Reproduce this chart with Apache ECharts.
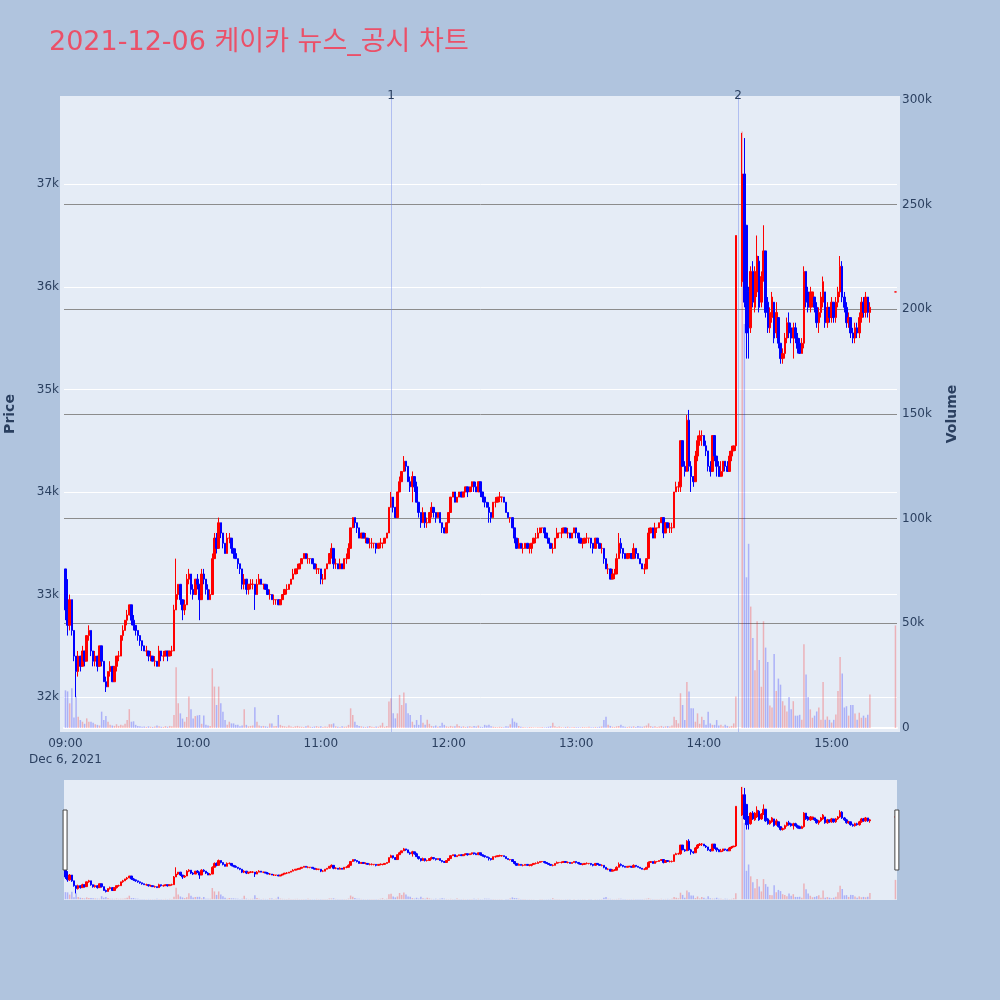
<!DOCTYPE html>
<html>
<head>
<meta charset="utf-8">
<title>2021-12-06 케이카 뉴스_공시 차트</title>
<script src="https://cdn.jsdelivr.net/npm/echarts@6.0.0/dist/echarts.min.js"></script>
<style>
html, body { margin: 0; padding: 0; background: #b0c4de; }
#chart { width: 1000px; height: 1000px; }
</style>
</head>
<body>
<div id="chart"></div>
<script>
// 1분봉 [시가, 종가, 저가, 고가]  09:00 ~ 14:15 (1분 간격)
var ohlcMorning = [
  [33250,32850,32750,33250],[32850,32700,32600,33150],[32700,32950,32650,33000],[32950,32650,32600,32950],[32650,32400,32350,32650],
  [32400,32250,32000,32400],[32250,32400,32200,32450],[32400,32300,32250,32400],[32300,32450,32300,32500],[32450,32350,32300,32450],
  [32350,32600,32350,32600],[32600,32650,32550,32700],[32650,32450,32400,32650],[32450,32350,32300,32450],[32350,32400,32300,32450],
  [32400,32300,32250,32400],[32300,32500,32300,32500],[32500,32350,32300,32500],[32350,32150,32150,32350],[32150,32100,32050,32200],
  [32100,32250,32100,32250],[32250,32300,32200,32350],[32300,32150,32150,32300],[32150,32300,32150,32300],[32300,32400,32250,32400],
  [32400,32400,32350,32450],[32400,32600,32400,32600],[32600,32650,32550,32700],[32650,32750,32650,32750],[32750,32800,32700,32850],
  [32800,32900,32800,32900],[32900,32750,32700,32900],[32750,32700,32650,32800],[32700,32650,32600,32700],[32650,32600,32550,32650],
  [32600,32550,32500,32600],[32550,32500,32450,32550],[32500,32450,32450,32500],[32450,32450,32400,32500],[32450,32400,32350,32450],
  [32400,32400,32350,32450],[32400,32350,32350,32400],[32350,32350,32300,32400],[32350,32300,32300,32350],[32300,32450,32300,32500],
  [32450,32400,32350,32450],[32400,32400,32350,32450],[32400,32450,32400,32450],[32450,32400,32350,32450],[32400,32450,32400,32450],
  [32450,32450,32400,32500],[32450,32850,32450,32900],[32850,33000,32850,33350],[33000,33100,32950,33100],[33100,32950,32900,33100],
  [32950,32850,32750,32950],[32850,32900,32800,32950],[32900,33150,32900,33200],[33150,33200,33100,33250],[33200,33050,33000,33200],
  [33050,33000,32950,33100],[33000,33150,33000,33150],[33150,33100,33050,33200],[33100,32950,32750,33100],[32950,33200,32950,33250],
  [33200,33150,33100,33250],[33150,33050,33000,33150],[33050,32950,32950,33100],[32950,33000,32950,33050],[33000,33350,33000,33400],
  [33350,33550,33350,33600],[33550,33450,33400,33600],[33450,33700,33450,33750],[33700,33600,33550,33700],[33600,33500,33450,33600],
  [33500,33400,33400,33500],[33400,33550,33400,33600],[33550,33550,33500,33600],[33550,33450,33400,33550],[33450,33400,33350,33450],
  [33400,33350,33350,33450],[33350,33300,33250,33350],[33300,33250,33200,33300],[33250,33100,33050,33250],[33100,33150,33050,33200],
  [33150,33050,33000,33150],[33050,33100,33000,33100],[33100,33100,33050,33150],[33100,33100,33050,33150],[33100,33000,32850,33100],
  [33000,33100,33000,33150],[33100,33150,33100,33200],[33150,33100,33100,33150],[33100,33100,33050,33100],[33100,33050,33050,33100],
  [33050,33000,33000,33100],[33000,33000,32950,33050],[33000,32950,32950,33000],[32950,32950,32900,33000],[32950,32950,32900,32950],
  [32950,32900,32900,32950],[32900,32950,32900,32950],[32950,33000,32950,33000],[33000,33050,33000,33050],[33050,33050,33000,33100],
  [33050,33100,33050,33100],[33100,33150,33100,33150],[33150,33200,33150,33250],[33200,33250,33200,33250],[33250,33250,33200,33300],
  [33250,33300,33250,33300],[33300,33350,33300,33350],[33350,33400,33350,33400],[33400,33350,33350,33400],[33350,33350,33300,33400],
  [33350,33350,33300,33350],[33350,33300,33300,33350],[33300,33250,33250,33300],[33250,33250,33200,33300],[33250,33250,33200,33250],
  [33250,33150,33100,33250],[33150,33150,33100,33200],[33150,33250,33150,33250],[33250,33300,33250,33300],[33300,33400,33300,33400],
  [33400,33450,33350,33500],[33450,33300,33250,33450],[33300,33300,33250,33350],[33300,33250,33250,33300],[33250,33300,33250,33350],
  [33300,33250,33250,33300],[33250,33350,33250,33350],[33350,33350,33300,33400],[33350,33450,33350,33500],[33450,33650,33450,33650],
  [33650,33750,33650,33750],[33750,33700,33650,33750],[33700,33650,33600,33700],[33650,33550,33550,33650],[33550,33600,33550,33600],
  [33600,33550,33550,33600],[33550,33550,33500,33600],[33550,33500,33500,33550],[33500,33500,33450,33550],[33500,33500,33450,33550],
  [33500,33500,33450,33500],[33500,33450,33400,33500],[33450,33500,33450,33500],[33500,33500,33450,33550],[33500,33500,33450,33500],
  [33500,33550,33500,33550],[33550,33600,33550,33600],[33600,33850,33600,33850],[33850,33950,33850,34000],[33950,33850,33800,33950],
  [33850,33750,33750,33850],[33750,34000,33750,34000],[34000,34100,34000,34150],[34100,34200,34100,34200],[34200,34300,34200,34350],
  [34300,34250,34200,34300],[34250,34100,34100,34250],[34100,34050,34000,34150],[34050,34150,33900,34200],[34150,34050,34000,34150],
  [34050,33900,33900,34100],[33900,33800,33750,33900],[33800,33700,33650,33800],[33700,33800,33700,33850],[33800,33700,33650,33800],
  [33700,33700,33650,33750],[33700,33800,33700,33800],[33800,33850,33750,33900],[33850,33800,33750,33850],[33800,33750,33700,33800],
  [33750,33800,33750,33800],[33800,33700,33700,33800],[33700,33650,33600,33700],[33650,33600,33600,33650],[33600,33700,33600,33700],
  [33700,33800,33700,33800],[33800,33950,33800,33950],[33950,34000,33950,34000],[34000,33900,33900,34000],[33900,33950,33900,33950],
  [33950,34000,33950,34000],[34000,33950,33950,34000],[33950,34000,33950,34000],[34000,34050,34000,34050],[34050,34000,33950,34050],
  [34000,34050,34000,34050],[34050,34100,34000,34100],[34100,34050,34000,34100],[34050,34000,34000,34100],[34000,34100,34000,34100],
  [34100,34000,33950,34100],[34000,33950,33900,34000],[33950,33900,33850,33950],[33900,33850,33850,33900],[33850,33800,33700,33900],
  [33800,33750,33700,33800],[33750,33900,33750,33900],[33900,33900,33850,33950],[33900,33950,33900,33950],[33950,33950,33900,34000],
  [33950,33950,33900,33950],[33950,33900,33900,33950],[33900,33800,33800,33900],[33800,33750,33750,33800],[33750,33750,33700,33750],
  [33750,33650,33650,33750],[33650,33550,33500,33650],[33550,33450,33450,33550],[33450,33500,33450,33550],[33500,33450,33450,33500],
  [33450,33450,33400,33500],[33450,33500,33450,33500],[33500,33450,33450,33500],[33450,33450,33400,33500],[33450,33500,33400,33500],
  [33500,33550,33500,33550],[33550,33550,33500,33600],[33550,33600,33550,33650],[33600,33650,33600,33650],[33650,33650,33600,33650],
  [33650,33600,33550,33650],[33600,33550,33550,33600],[33550,33500,33500,33550],[33500,33450,33450,33500],[33450,33450,33400,33500],
  [33450,33550,33450,33550],[33550,33600,33550,33650],[33600,33600,33550,33600],[33600,33600,33550,33650],[33600,33650,33600,33650],
  [33650,33600,33600,33650],[33600,33600,33550,33650],[33600,33550,33550,33600],[33550,33600,33550,33600],[33600,33650,33600,33650],
  [33650,33600,33550,33650],[33600,33550,33500,33600],[33550,33500,33500,33550],[33500,33500,33450,33550],[33500,33550,33500,33550],
  [33550,33550,33500,33600],[33550,33550,33500,33550],[33550,33500,33450,33550],[33500,33450,33400,33500],[33450,33550,33450,33550],
  [33550,33500,33500,33550],[33500,33450,33450,33500],[33450,33450,33400,33500],[33450,33350,33300,33450],[33350,33250,33250,33350],
  [33250,33250,33200,33300],[33250,33150,33150,33250],[33150,33200,33150,33250],[33200,33200,33150,33250],[33200,33350,33200,33400],
  [33350,33500,33350,33600],[33500,33450,33400,33550],[33450,33400,33350,33450],[33400,33350,33350,33400],[33350,33400,33350,33400],
  [33400,33400,33350,33400],[33400,33350,33350,33400],[33350,33450,33350,33500],[33450,33400,33350,33450],[33400,33350,33350,33400],
  [33350,33300,33300,33350],[33300,33250,33250,33300],[33250,33250,33200,33300],[33250,33350,33250,33350],[33350,33600,33350,33650],
  [33600,33650,33600,33650],[33650,33550,33550,33650],[33550,33650,33550,33700],[33650,33650,33600,33650],[33650,33700,33650,33700],
  [33700,33750,33700,33750],[33750,33600,33550,33750],[33600,33700,33600,33700],[33700,33650,33650,33700],[33650,33650,33600,33700],
  [33650,33650,33600,33700],[33650,34000,33650,34000],[34000,34050,34000,34100],[34050,34050,34000,34100],[34050,34500,34000,34500],
  [34500,34250,34250,34500],[34250,34200,34150,34300],[34200,34700,34200,34750],[34700,34250,34200,34800],[34250,34150,34000,34300],
  [34150,34100,34050,34150],[34100,34350,34100,34400],[34350,34500,34300,34550],[34500,34550,34450,34600],[34550,34550,34450,34600],
  [34550,34450,34450,34550],[34450,34400,34350,34500],[34400,34250,34200,34400],[34250,34200,34150,34300],[34200,34550,34200,34550],
  [34550,34350,34300,34550],[34350,34250,34150,34350],[34250,34150,34150,34300],[34150,34200,34150,34300],[34200,34300,34150,34300],
  [34300,34250,34200,34300],[34250,34200,34200,34300],[34200,34350,34200,34400],[34350,34400,34300,34450],[34400,34450,34400,34450],
  [34450,36500,34400,36500]
];
// VI 해제 후 14:18 ~ 15:18
var ohlcAfterVI = [
  [36050,37100,36000,37500],[37100,35850,35800,37450],[36600,35550,35300,36600],[35950,35600,35300,36000],[35600,36150,35550,36200],
  [36150,35850,35800,36250],[35800,36150,35750,36200],[35950,36300,35900,36500],[36250,35800,35750,36300],[35850,36100,35800,36150],
  [36100,36350,36050,36600],[36350,35750,35700,36350],[35850,35600,35550,35900],[35600,35750,35550,35800],[35700,35900,35650,35950],
  [35850,35500,35450,35850],[35550,35750,35500,35850],[35700,35450,35400,35700],[35450,35300,35250,35450],[35300,35350,35250,35400],
  [35350,35500,35300,35550],[35500,35650,35450,35700],[35650,35550,35500,35750],[35600,35500,35450,35650],[35500,35600,35300,35650],
  [35600,35500,35450,35650],[35500,35400,35350,35550],[35450,35350,35350,35500],[35350,35450,35350,35500],[35450,36150,35400,36200],
  [36150,35850,35800,36150],[35950,35800,35750,36000],[35800,35950,35750,36000],[35850,35950,35800,35950],[35900,35800,35750,35900],
  [35800,35650,35600,35850],[35650,35750,35550,35800],[35750,35900,35700,35950],[35850,36050,35800,36100],[35950,35650,35600,35950],
  [35650,35800,35600,35850],[35800,35700,35650,35800],[35700,35850,35650,35900],[35850,35700,35650,35850],[35700,35850,35650,35900],
  [35850,35950,35800,36000],[35950,36200,35900,36300],[36200,35900,35850,36250],[35900,35800,35750,35950],[35800,35650,35600,35850],
  [35650,35700,35600,35750],[35700,35550,35500,35700],[35550,35500,35450,35600],[35500,35600,35450,35650],[35600,35550,35500,35650],
  [35550,35700,35500,35750],[35700,35850,35650,35900],[35850,35750,35700,35900],[35750,35900,35700,35950],[35900,35750,35700,35900],
  [35750,35800,35650,35850]
];
// 15:30 종가 단일가
var ohlcClose = [[35950,35950,35950,35950]];

var volMorning = [
  18000,17500,11800,19000,5000,15000,5400,3800,3000,2000,
  4600,3000,3000,2500,1800,1500,1200,7800,3800,5700,
  3000,1500,1200,1000,1800,1000,1500,1200,2000,3800,
  9000,3000,3200,1500,1000,800,600,700,500,800,
  600,500,700,1200,800,600,500,900,600,1000,
  800,6200,29000,11800,7000,4500,3000,5200,15000,8900,
  4500,5700,6000,6200,2000,6000,1500,1200,1000,28500,
  19800,11000,19800,11800,7800,3800,1500,3000,2200,2200,
  1500,1500,800,1200,8900,1500,800,1000,1200,9900,
  3000,1200,800,1000,800,600,2200,2200,800,1000,
  6200,1500,1000,800,600,1200,700,500,800,1000,
  700,600,500,800,1200,600,500,700,900,600,
  800,500,700,600,1800,1800,2200,800,600,500,
  800,600,700,1500,9400,6200,3000,1400,1000,800,
  600,500,700,900,600,500,700,600,1200,2500,
  600,1000,12600,14200,7000,4600,7000,15800,11000,16900,
  11800,7000,6200,3000,1500,3800,1500,6200,2500,1500,
  4000,2000,1000,800,1200,600,1000,2500,1500,800,
  600,1000,700,800,1800,900,600,800,500,700,
  800,600,1000,700,1200,600,500,1500,1200,1500,
  800,600,500,400,600,500,300,800,700,1800,
  4600,3000,2500,1000,600,500,400,300,500,400,
  300,200,300,400,500,300,400,600,800,2500,
  800,500,700,400,300,500,600,400,300,500,
  300,400,300,500,400,300,600,400,300,500,
  400,600,700,3800,5400,1500,1000,600,500,800,
  1000,1500,800,600,500,700,600,800,500,900,
  700,600,800,1200,2200,900,600,800,500,700,
  1000,600,800,900,700,1200,5400,3800,2200,16600,
  11000,3800,22000,17400,9400,9400,3000,7000,2000,5400,
  3800,1500,7800,2200,1500,1500,3800,1200,1500,800,
  1500,1000,700,1000,2200,15000
];
var volAfterVI = [
  285000,193000,72000,88000,58000,43000,27600,51000,32500,19700,
  51000,38400,31500,10800,9800,35400,17700,23600,20700,12800,
  10800,7900,14800,8900,12800,5900,5900,6300,3900,40000,
  25600,14800,8900,4900,5900,7900,9800,3900,22000,3900,
  5500,3900,2600,3900,6500,17700,33900,26000,9800,10400,
  5900,11000,11000,6900,3900,7300,4900,5900,4900,6300,
  16000
];
var volClose = [49000];

var segmentStarts = ['09:00', '14:18', '15:30'];
var newsTimes = ['11:33', '14:16'];
var newsLabels = ['1', '2'];
var dateLabel = 'Dec 6, 2021';
var titleText = '2021-12-06 케이카 뉴스_공시 차트';

var FONT = '"DejaVu Sans", "Noto Sans CJK KR", sans-serif';
var UP = '#ff0000', DOWN = '#0000ff';
var VOL_UP = 'rgba(255,0,0,0.25)', VOL_DOWN = 'rgba(0,0,255,0.25)';
var AXIS_TEXT = '#2a3f5f';
var MINUTE = 60 * 1000;
var baseDay = new Date(2021, 11, 6, 0, 0).getTime();

function toTime(hhmm, offsetMin) {
  var p = hhmm.split(':');
  return baseDay + (Number(p[0]) * 60 + Number(p[1]) + (offsetMin || 0)) * MINUTE;
}
function pad(n) { return n < 10 ? '0' + n : '' + n; }

var segments = [
  { start: segmentStarts[0], ohlc: ohlcMorning, vol: volMorning },
  { start: segmentStarts[1], ohlc: ohlcAfterVI, vol: volAfterVI },
  { start: segmentStarts[2], ohlc: ohlcClose, vol: volClose }
];

var candleData = [];
var volumeData = [];
var prevClose = null;
segments.forEach(function (seg) {
  seg.ohlc.forEach(function (row, i) {
    var t = toTime(seg.start, i);
    var up = row[1] > row[0] || (row[1] === row[0] && prevClose !== null && prevClose <= row[1]);
    candleData.push([t, row[0], row[1], row[2], row[3]]);
    volumeData.push({ value: [t, seg.vol[i]], itemStyle: { color: up ? VOL_UP : VOL_DOWN } });
    prevClose = row[1];
  });
});

var xMin = toTime('09:00', -0.33);
var xMax = toTime('15:30', 0.38);
var candleStyle = { color: UP, color0: DOWN, borderColor: UP, borderColor0: DOWN, borderWidth: 1 };
var gridGray = '#8c8c8c', clear = 'rgba(0,0,0,0)';

var myChart = echarts.init(document.getElementById('chart'));

var option = {
  backgroundColor: '#b0c4de',
  animation: false,
  textStyle: { fontFamily: FONT },
  title: {
    text: titleText, left: 49, top: 29, padding: 0,
    textStyle: { color: '#eb5068', fontSize: 27, fontWeight: 'normal', fontFamily: FONT }
  },
  graphic: [{
    type: 'rect', z: -1, silent: true,
    shape: { x: 60, y: 96, width: 840, height: 636 },
    style: { fill: '#e5ecf6' }
  }],
  grid: [
    { left: 64, right: 103, top: 96, height: 636, show: false, containLabel: false, outerBoundsMode: 'none' },
    { left: 64, right: 103, top: 780, height: 120, show: true, backgroundColor: '#e5ecf6', borderWidth: 0,
      containLabel: false, outerBoundsMode: 'none' }
  ],
  xAxis: [{
    type: 'time', gridIndex: 0, min: xMin, max: xMax,
    splitNumber: 7, minInterval: 60 * MINUTE, maxInterval: 60 * MINUTE,
    axisLine: { show: true, onZero: true, onZeroAxisIndex: 1, lineStyle: { color: '#ffffff', width: 2 } },
    axisTick: { show: false },
    splitLine: { show: false },
    axisLabel: {
      color: AXIS_TEXT, fontSize: 12, fontFamily: FONT, margin: 4, lineHeight: 16,
      formatter: function (value) {
        var d = new Date(value);
        if (d.getMinutes() !== 0 || d.getSeconds() !== 0) return '';
        var s = pad(d.getHours()) + ':00';
        return d.getHours() === 9 ? s + '\n' + dateLabel : s;
      }
    }
  }, {
    type: 'time', gridIndex: 1, min: xMin, max: xMax, show: false
  }],
  yAxis: [{
    type: 'value', gridIndex: 0, position: 'left', min: 31660, max: 37860,
    name: 'Price', nameLocation: 'middle', nameGap: 47,
    nameTextStyle: { color: AXIS_TEXT, fontSize: 14, fontWeight: 'bold', fontFamily: FONT },
    axisLine: { show: false }, axisTick: { show: false },
    axisLabel: {
      color: AXIS_TEXT, fontSize: 12, margin: 5, fontFamily: FONT,
      formatter: function (v) { return v % 1000 === 0 ? (v / 1000) + 'k' : ''; }
    },
    splitLine: { show: true, showMinLine: false, showMaxLine: false, lineStyle: { color: '#ffffff', width: 1 } }
  }, {
    type: 'value', gridIndex: 0, position: 'right', min: -1911, max: 301911,
    name: 'Volume', nameLocation: 'middle', nameGap: 48,
    nameTextStyle: { color: AXIS_TEXT, fontSize: 14, fontWeight: 'bold', fontFamily: FONT },
    axisLine: { show: false }, axisTick: { show: false },
    axisLabel: {
      color: AXIS_TEXT, fontSize: 12, margin: 5, fontFamily: FONT,
      formatter: function (v) {
        if (v % 50000 !== 0) return '';
        return v === 0 ? '0' : (v / 1000) + 'k';
      }
    },
    splitLine: {
      show: true, showMinLine: false, showMaxLine: false,
      lineStyle: { color: [clear, gridGray, gridGray, gridGray, gridGray, gridGray, clear], width: 1 }
    }
  }, {
    type: 'value', gridIndex: 1, min: 31660, max: 37860, show: false, splitLine: { show: false }
  }, {
    type: 'value', gridIndex: 1, min: -1911, max: 301911, show: false, splitLine: { show: false }
  }],
  dataZoom: [{
    type: 'slider', xAxisIndex: [0], filterMode: 'none',
    left: 63.5, right: 102.7, top: 780, height: 120,
    startValue: xMin, endValue: xMax,
    backgroundColor: clear, borderColor: clear, fillerColor: clear,
    showDataShadow: false, showDetail: false, brushSelect: false,
    moveHandleSize: 0,
    handleIcon: 'path://M0,0H4V60H0Z', handleSize: '50%',
    handleStyle: { color: '#ffffff', borderColor: '#444444', borderWidth: 1 },
    emphasis: { handleStyle: { color: '#ffffff', borderColor: '#444444', borderWidth: 1 } }
  }],
  series: [{
    name: 'Volume', type: 'bar', xAxisIndex: 0, yAxisIndex: 1,
    data: volumeData, barWidth: 1.5, z: 2
  }, {
    name: 'Price', type: 'candlestick', xAxisIndex: 0, yAxisIndex: 0,
    data: candleData, encode: { x: 0, y: [1, 2, 3, 4] },
    barWidth: 2, itemStyle: candleStyle, z: 3,
    markLine: {
      silent: true, symbol: ['none', 'none'], animation: false,
      lineStyle: { color: 'rgba(110,135,235,0.45)', width: 1, type: 'solid' },
      label: { show: true, position: 'end', formatter: '{b}', color: AXIS_TEXT, fontSize: 12, distance: -6, fontFamily: FONT },
      data: newsTimes.map(function (t, i) { return { name: newsLabels[i], xAxis: toTime(t, 0) }; })
    }
  }, {
    type: 'bar', xAxisIndex: 1, yAxisIndex: 3, silent: true,
    data: volumeData, barWidth: 1.5, z: 2
  }, {
    type: 'candlestick', xAxisIndex: 1, yAxisIndex: 2, silent: true,
    data: candleData, encode: { x: 0, y: [1, 2, 3, 4] },
    barWidth: 2, itemStyle: candleStyle, z: 3
  }]
};

myChart.setOption(option);

window.onresize = function () {
  myChart.resize();
};
</script>
</body>
</html>
